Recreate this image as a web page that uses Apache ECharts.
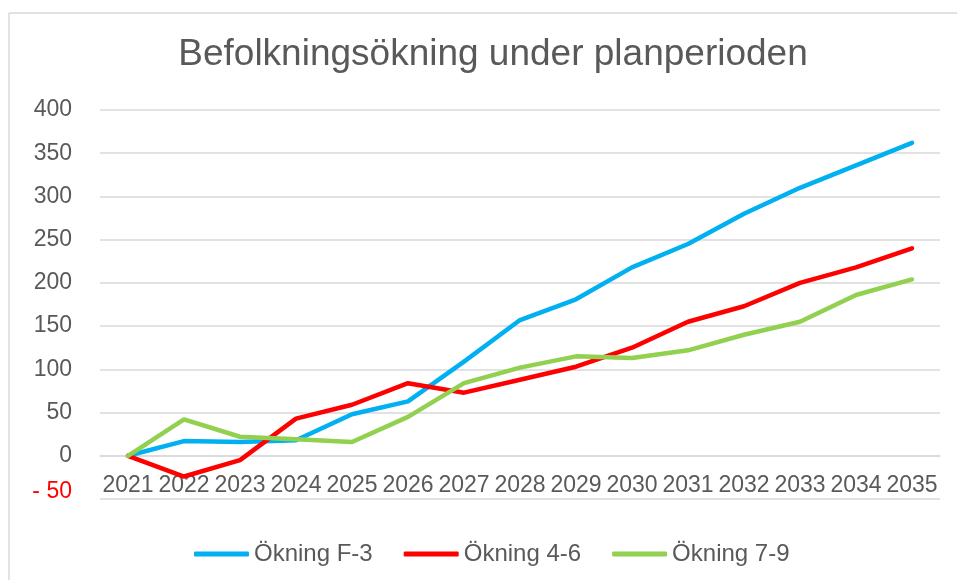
<!DOCTYPE html>
<html>
<head>
<meta charset="utf-8">
<script src="https://cdn.jsdelivr.net/npm/echarts@6/dist/echarts.min.js"></script>
<style>
  html, body { margin: 0; padding: 0; background: #fff; }
  #main { width: 957px; height: 580px; }
</style>
</head>
<body>
<div id="main"></div>
<script>
var years = ['2021', '2022', '2023', '2024', '2025', '2026', '2027', '2028',
  '2029', '2030', '2031', '2032', '2033', '2034', '2035'];
var okningF3 = [0, 17, 16, 18, 48, 63, 109, 157, 181, 218, 245, 280, 310, 336, 362];
var okning46 = [0, -24, -5, 43, 59, 84, 73, 88, 103, 125, 155, 173, 200, 218, 240];
var okning79 = [0, 42, 22, 19, 16, 45, 84, 102, 115, 113, 122, 140, 155, 186, 204];

var chart = echarts.init(document.getElementById('main'));
var font = 'Liberation Sans, Arial, sans-serif';
var grey = '#595959';

function serie(name, data, color) {
    return {
        name: name,
        type: 'line',
        data: data,
        symbol: 'none',
        lineStyle: { width: 4.5, color: color, cap: 'round', join: 'round' },
        itemStyle: { color: color }
    };
}

var option = {
    backgroundColor: '#fff',
    animation: false,
    title: {
        text: 'Befolkningsökning under planperioden',
        left: 488,
        textAlign: 'center',
        top: 31,
        textStyle: { fontFamily: font, fontSize: 37, fontWeight: 'normal', color: grey }
    },
    legend: {
        top: 537,
        left: 189,
        icon: 'roundRect',
        itemWidth: 55,
        itemHeight: 5,
        itemGap: 31,
        textStyle: { fontFamily: font, fontSize: 24, color: grey },
        data: ['Ökning F-3', 'Ökning 4-6', 'Ökning 7-9']
    },
    grid: { left: 100, right: 17, top: 110, bottom: 81 },
    xAxis: {
        type: 'category',
        data: years,
        position: 'bottom',
        offset: -43.25,
        axisLine: { show: true, onZero: false, lineStyle: { color: '#d9d9d9', width: 1.5 } },
        axisTick: { show: false },
        axisLabel: { interval: 0, margin: 18, fontFamily: font, fontSize: 23, color: grey }
    },
    yAxis: {
        type: 'value',
        min: -50,
        max: 400,
        interval: 50,
        axisLine: { show: false },
        axisTick: { show: false },
        splitLine: { lineStyle: { color: '#d9d9d9', width: 1.5 } },
        axisLabel: {
            margin: 28,
            fontFamily: font,
            fontSize: 23,
            color: grey,
            formatter: function (v) {
                if (v < 0) return '{neg|- ' + Math.abs(v) + '}';
                return String(v);
            },
            rich: {
                neg: { fontFamily: font, fontSize: 23, color: '#ff0000', padding: [0, 0, 14, 0] }
            }
        }
    },
    graphic: [
        { type: 'line', shape: { x1: 9, y1: 13, x2: 957, y2: 13 }, style: { stroke: '#d9d9d9', lineWidth: 1.5 } },
        { type: 'line', shape: { x1: 9, y1: 13, x2: 9, y2: 580 }, style: { stroke: '#d9d9d9', lineWidth: 1.5 } }
    ],
    series: [
        serie('Ökning F-3', okningF3, '#00b0f0'),
        serie('Ökning 4-6', okning46, '#ff0000'),
        serie('Ökning 7-9', okning79, '#92d050')
    ]
};
chart.setOption(option);
</script>
</body>
</html>
